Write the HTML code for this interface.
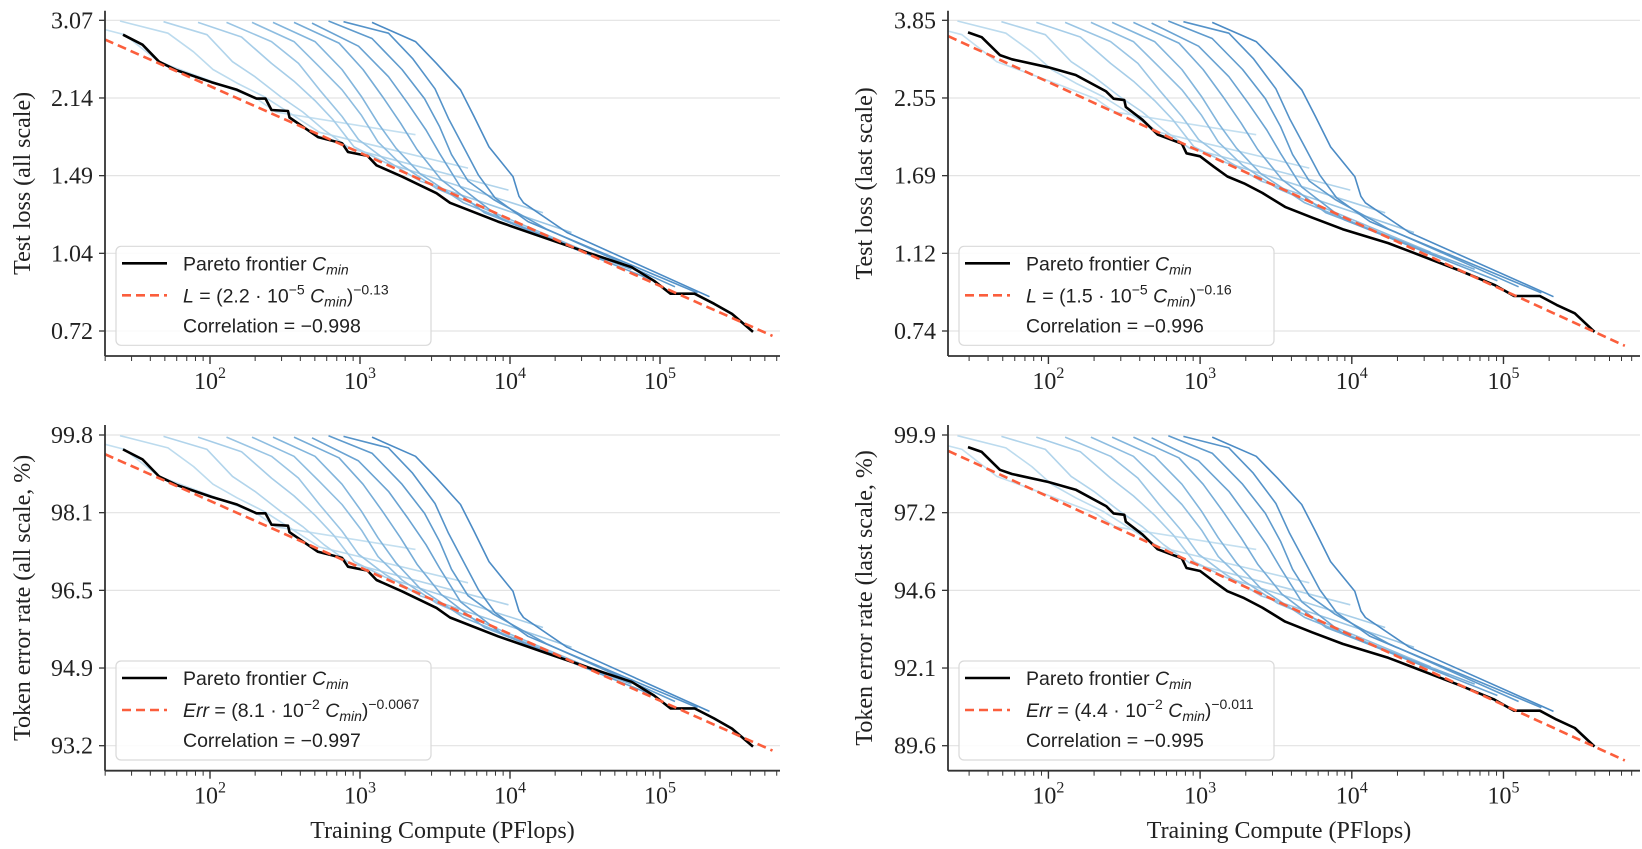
<!DOCTYPE html>
<html><head><meta charset="utf-8"><style>
html,body{margin:0;padding:0;background:#fff;}
svg{display:block;}
</style></head><body>
<svg id="fig" width="1642" height="849" viewBox="0 0 1642 849" xmlns="http://www.w3.org/2000/svg"></svg>
<script>
// ---------- DATA ----------
// x values are log10(Training Compute in PFlops)
const frontierLeftLogC = [1.42,1.55,1.66,1.78,2.01,2.18,2.31,2.37,2.41,2.52,2.53,2.72,2.88,2.92,3.05,3.11,3.28,3.51,3.60,3.92,4.24,4.53,4.81,4.96,5.07,5.23,5.36,5.48,5.62];
const frontierLeftLoss = [2.87,2.74,2.53,2.43,2.30,2.22,2.13,2.13,2.02,2.01,1.95,1.78,1.73,1.66,1.63,1.56,1.48,1.37,1.31,1.20,1.11,1.035,0.97,0.91,0.857,0.857,0.818,0.78,0.717];
const frontierRightLogC = [1.47,1.56,1.68,1.76,2.00,2.18,2.38,2.43,2.50,2.51,2.62,2.72,2.88,2.91,3.00,3.09,3.18,3.29,3.41,3.56,3.74,3.94,4.24,4.38,4.71,4.94,5.07,5.24,5.35,5.47,5.60];
const frontierRightLoss = [3.61,3.52,3.20,3.13,3.00,2.88,2.64,2.54,2.52,2.43,2.27,2.10,2.00,1.90,1.87,1.77,1.68,1.62,1.54,1.43,1.35,1.27,1.18,1.13,1.02,0.945,0.891,0.891,0.85,0.813,0.737];
// fit parameters used for drawing the power-law lines L=(k*C)^-p
const fitK = [2.4e-5, 1.7e-5];
const fitP = [0.135, 0.16];
const fitRangeLogC = [[1.30,5.75],[1.34,5.80]];
// training curves (log10 C, loss in "all scale" units)
const curveLogC = [
 [1.30,1.43,1.66,2.01,2.31,2.44,3.37],
 [1.40,1.72,1.89,2.02,2.18,2.36,2.50,2.73,3.72],
 [1.69,1.98,2.15,2.30,2.47,2.62,2.76,2.93,3.99],
 [1.92,2.21,2.41,2.56,2.70,2.82,2.96,3.17,4.22],
 [2.11,2.41,2.59,2.73,2.88,2.99,3.17,3.40,4.41],
 [2.28,2.56,2.73,2.88,3.01,3.12,3.28,3.51,4.52],
 [2.42,2.70,2.88,3.01,3.12,3.24,3.40,3.69,4.64],
 [2.56,2.86,3.02,3.15,3.27,3.38,3.54,3.83,4.81],
 [2.68,2.99,3.19,3.32,3.44,3.53,3.67,3.95,4.96],
 [2.79,3.08,3.28,3.43,3.53,3.61,3.72,3.89,4.24,5.10],
 [2.89,3.19,3.35,3.50,3.59,3.69,3.79,3.90,4.12,5.25],
 [3.08,3.37,3.51,3.67,3.76,3.86,4.02,4.06,4.09,4.38,5.33]
];
const curveLoss = [
 [2.94,2.87,2.53,2.31,2.13,2.00,1.80],
 [3.06,2.89,2.65,2.44,2.29,2.15,2.02,1.82,1.54],
 [3.05,2.87,2.53,2.36,2.15,2.00,1.84,1.69,1.39],
 [3.04,2.84,2.51,2.31,2.11,1.93,1.70,1.58,1.25],
 [3.04,2.78,2.51,2.22,1.96,1.76,1.60,1.45,1.14],
 [3.04,2.78,2.47,2.22,1.97,1.74,1.56,1.40,1.04],
 [3.04,2.78,2.44,2.15,1.90,1.69,1.50,1.31,1.00],
 [3.04,2.76,2.44,2.15,1.90,1.68,1.46,1.25,0.96],
 [3.03,2.72,2.36,2.08,1.84,1.65,1.41,1.21,0.91],
 [3.06,2.82,2.44,2.13,1.87,1.64,1.45,1.33,1.16,0.885],
 [3.05,2.89,2.57,2.23,1.94,1.70,1.49,1.34,1.20,0.86],
 [3.04,2.78,2.51,2.22,1.96,1.70,1.48,1.35,1.31,1.14,0.845]
];
const curveColors = ['#c3dff0','#bcdbee','#b1d4eb','#a6cde8','#9ac5e4','#8ebde0','#82b5dc','#76acd7','#6aa3d2','#5f9bcd','#5593c9','#4b8bc5'];
const yTicksTL = ['3.07','2.14','1.49','1.04','0.72'];
const yTicksTR = ['3.85','2.55','1.69','1.12','0.74'];
const yTicksBL = ['99.8','98.1','96.5','94.9','93.2'];
const yTicksBR = ['99.9','97.2','94.6','92.1','89.6'];
const xTickExps = [2,3,4,5];
const legendFit = [['2.2','−5','−0.13','L'],['1.5','−5','−0.16','L'],['8.1','−2','−0.0067','Err'],['4.4','−2','−0.011','Err']];
const legendCorr = ['−0.998','−0.996','−0.997','−0.995'];
const yTitles = ['Test loss (all scale)','Test loss (last scale)','Token error rate (all scale, %)','Token error rate (last scale, %)'];

// ---------- LAYOUT ----------
const NS='http://www.w3.org/2000/svg';
const svg=document.getElementById('fig');
function el(tag,attrs,parent){const e=document.createElementNS(NS,tag);for(const k in attrs)e.setAttribute(k,attrs[k]);(parent||svg).appendChild(e);return e;}

const panels=[
 {x0:105,x1:780,lx0:1.30,lx1:5.80,yTop:20.3,yBot:331,spTop:10.7,spBot:356,ticks:yTicksTL,side:0,titleX:22,frontC:frontierLeftLogC,frontL:frontierLeftLoss,fit:0},
 {x0:948,x1:1640,lx0:1.338,lx1:5.90,yTop:20.3,yBot:331,spTop:10.7,spBot:356,ticks:yTicksTR,side:1,titleX:864,frontC:frontierRightLogC,frontL:frontierRightLoss,fit:1},
 {x0:105,x1:780,lx0:1.30,lx1:5.80,yTop:435,yBot:745.7,spTop:425,spBot:770.7,ticks:yTicksBL,side:0,titleX:22,frontC:frontierLeftLogC,frontL:frontierLeftLoss,fit:0},
 {x0:948,x1:1640,lx0:1.338,lx1:5.90,yTop:435,yBot:745.7,spTop:425,spBot:770.7,ticks:yTicksBR,side:1,titleX:864,frontC:frontierRightLogC,frontL:frontierRightLoss,fit:1}
];
const refTop=[3.07,3.85], refBot=[0.72,0.74];

panels.forEach((p,pi)=>{
  const g=el('g',{});
  
  
  const xs=v=>p.x0+(v-p.lx0)/(p.lx1-p.lx0)*(p.x1-p.x0);
  const mk=(top,bot)=>v=>p.yTop+(Math.log(top)-Math.log(v))/(Math.log(top)-Math.log(bot))*(p.yBot-p.yTop);
  const ys=mk(refTop[p.side],refBot[p.side]);
  const ysCurve=mk(refTop[0],refBot[0]);
  const clip=el('clipPath',{id:'clip'+pi},g);
  el('rect',{x:p.x0,y:p.spTop,width:p.x1-p.x0,height:p.spBot-p.spTop},clip);
  p.ticks.forEach((t,i)=>{
    const y=p.yTop+i*(p.yBot-p.yTop)/(p.ticks.length-1);
    const gl=el('line',{x1:p.x0,x2:p.x1,y1:y,y2:y,stroke:'#e3e3e3','stroke-width':1.2},g);
    
    
    el('line',{x1:p.x0-6,x2:p.x0,y1:y,y2:y,stroke:'#333','stroke-width':1.3},g);
    const tx=el('text',{x:p.x0-12,y:y+8,'text-anchor':'end','font-family':'Liberation Serif, serif','font-size':24,fill:'#222'},g);
    tx.textContent=t;
    
    
  });
  for(let d=1;d<=6;d++){for(let m=1;m<=9;m++){
    const lv=d+Math.log10(m); if(lv<p.lx0||lv>p.lx1)continue;
    const x=xs(lv);
    el('line',{x1:x,x2:x,y1:p.spBot,y2:p.spBot+(m===1?8:5),stroke:'#333','stroke-width':m===1?1.4:1},g);
  }}
  xTickExps.forEach(e=>{
    const x=xs(e);
    const t=el('text',{x:x,y:p.spBot+33,'text-anchor':'middle','font-family':'Liberation Serif, serif','font-size':24,fill:'#222'},g);
    
    
    const a=el('tspan',{},t);a.textContent='10';
    const b=el('tspan',{'font-size':16,dy:-11},t);b.textContent=String(e);
  });
  const cg=el('g',{'clip-path':'url(#clip'+pi+')'},g);
  curveLogC.forEach((cx,ci)=>{
    const pts=cx.map((c,k)=>xs(c).toFixed(1)+','+ysCurve(curveLoss[ci][k]).toFixed(1)).join(' ');
    const pl=el('polyline',{points:pts,fill:'none',stroke:curveColors[ci],'stroke-width':1.6,'stroke-linejoin':'round'},cg);
    
    
  });
  const fp=p.frontC.map((c,k)=>xs(c).toFixed(1)+','+ys(p.frontL[k]).toFixed(1)).join(' ');
  const fl=el('polyline',{points:fp,fill:'none',stroke:'#000','stroke-width':2.6,'stroke-linejoin':'round'},cg);
  
  
  const r=fitRangeLogC[p.fit], k=fitK[p.fit], pw=fitP[p.fit];
  const fy=lc=>Math.pow(k*Math.pow(10,lc),-pw);
  const rl=el('line',{x1:xs(r[0]),y1:ys(fy(r[0])),x2:xs(r[1]),y2:ys(fy(r[1])),stroke:'#fb5e3c','stroke-width':2.6,'stroke-dasharray':'9,5'},cg);
  
  
  el('line',{x1:p.x0,x2:p.x0,y1:p.spTop,y2:p.spBot,stroke:'#333','stroke-width':1.8},g);
  el('line',{x1:p.x0,x2:p.x1,y1:p.spBot,y2:p.spBot,stroke:'#333','stroke-width':1.8},g);
  const cy=(p.spTop+p.spBot)/2;
  const yt=el('text',{x:p.titleX,y:cy,'text-anchor':'middle','font-family':'Liberation Serif, serif','font-size':24,fill:'#222',transform:'rotate(-90 '+p.titleX+' '+cy+') translate(0 8)'},g);
  yt.textContent=yTitles[pi];
  
  
  if(pi>=2){
    const xt=el('text',{x:(p.x0+p.x1)/2-(pi===3?15:0),y:838,'text-anchor':'middle','font-family':'Liberation Serif, serif','font-size':24,fill:'#222'},g);
    xt.textContent='Training Compute (PFlops)';
    
    
  }
  const lx=p.side?959:116, ly=p.yTop+226;
  const lg=el('g',{},g);
  
  
  el('rect',{x:lx,y:ly,width:315,height:99,rx:5,fill:'#fff','fill-opacity':0.85,stroke:'#d9d9d9','stroke-width':1.2},lg);
  el('line',{x1:lx+6,x2:lx+51,y1:ly+17,y2:ly+17,stroke:'#000','stroke-width':2.6},lg);
  el('line',{x1:lx+6,x2:lx+51,y1:ly+49,y2:ly+49,stroke:'#fb5e3c','stroke-width':2.6,'stroke-dasharray':'9,5'},lg);
  const f='Liberation Sans, DejaVu Sans, sans-serif';
  const tx=lx+67;
  const t1=el('text',{x:tx,y:ly+24,'font-family':f,'font-size':19.5,fill:'#222'},lg);
  
  
  el('tspan',{},t1).textContent='Pareto frontier ';
  el('tspan',{'font-style':'italic'},t1).textContent='C';
  el('tspan',{'font-style':'italic','font-size':14,dy:4},t1).textContent='min';
  const lf=legendFit[pi];
  const t2=el('text',{x:tx,y:ly+56,'font-family':f,'font-size':19.5,fill:'#222'},lg);
  
  
  el('tspan',{'font-style':'italic'},t2).textContent=lf[3];
  el('tspan',{},t2).textContent=' = ('+lf[0]+' · 10';
  el('tspan',{'font-size':14,dy:-8},t2).textContent=lf[1];
  el('tspan',{'font-style':'italic',dy:8},t2).textContent=' C';
  el('tspan',{'font-style':'italic','font-size':14,dy:4},t2).textContent='min';
  el('tspan',{dy:-4},t2).textContent=')';
  el('tspan',{'font-size':14,dy:-8},t2).textContent=lf[2];
  const t3=el('text',{x:tx,y:ly+86,'font-family':f,'font-size':19.5,fill:'#222'},lg);
  
  
  t3.textContent='Correlation  =  '+legendCorr[pi];
});
</script>
</body></html>
